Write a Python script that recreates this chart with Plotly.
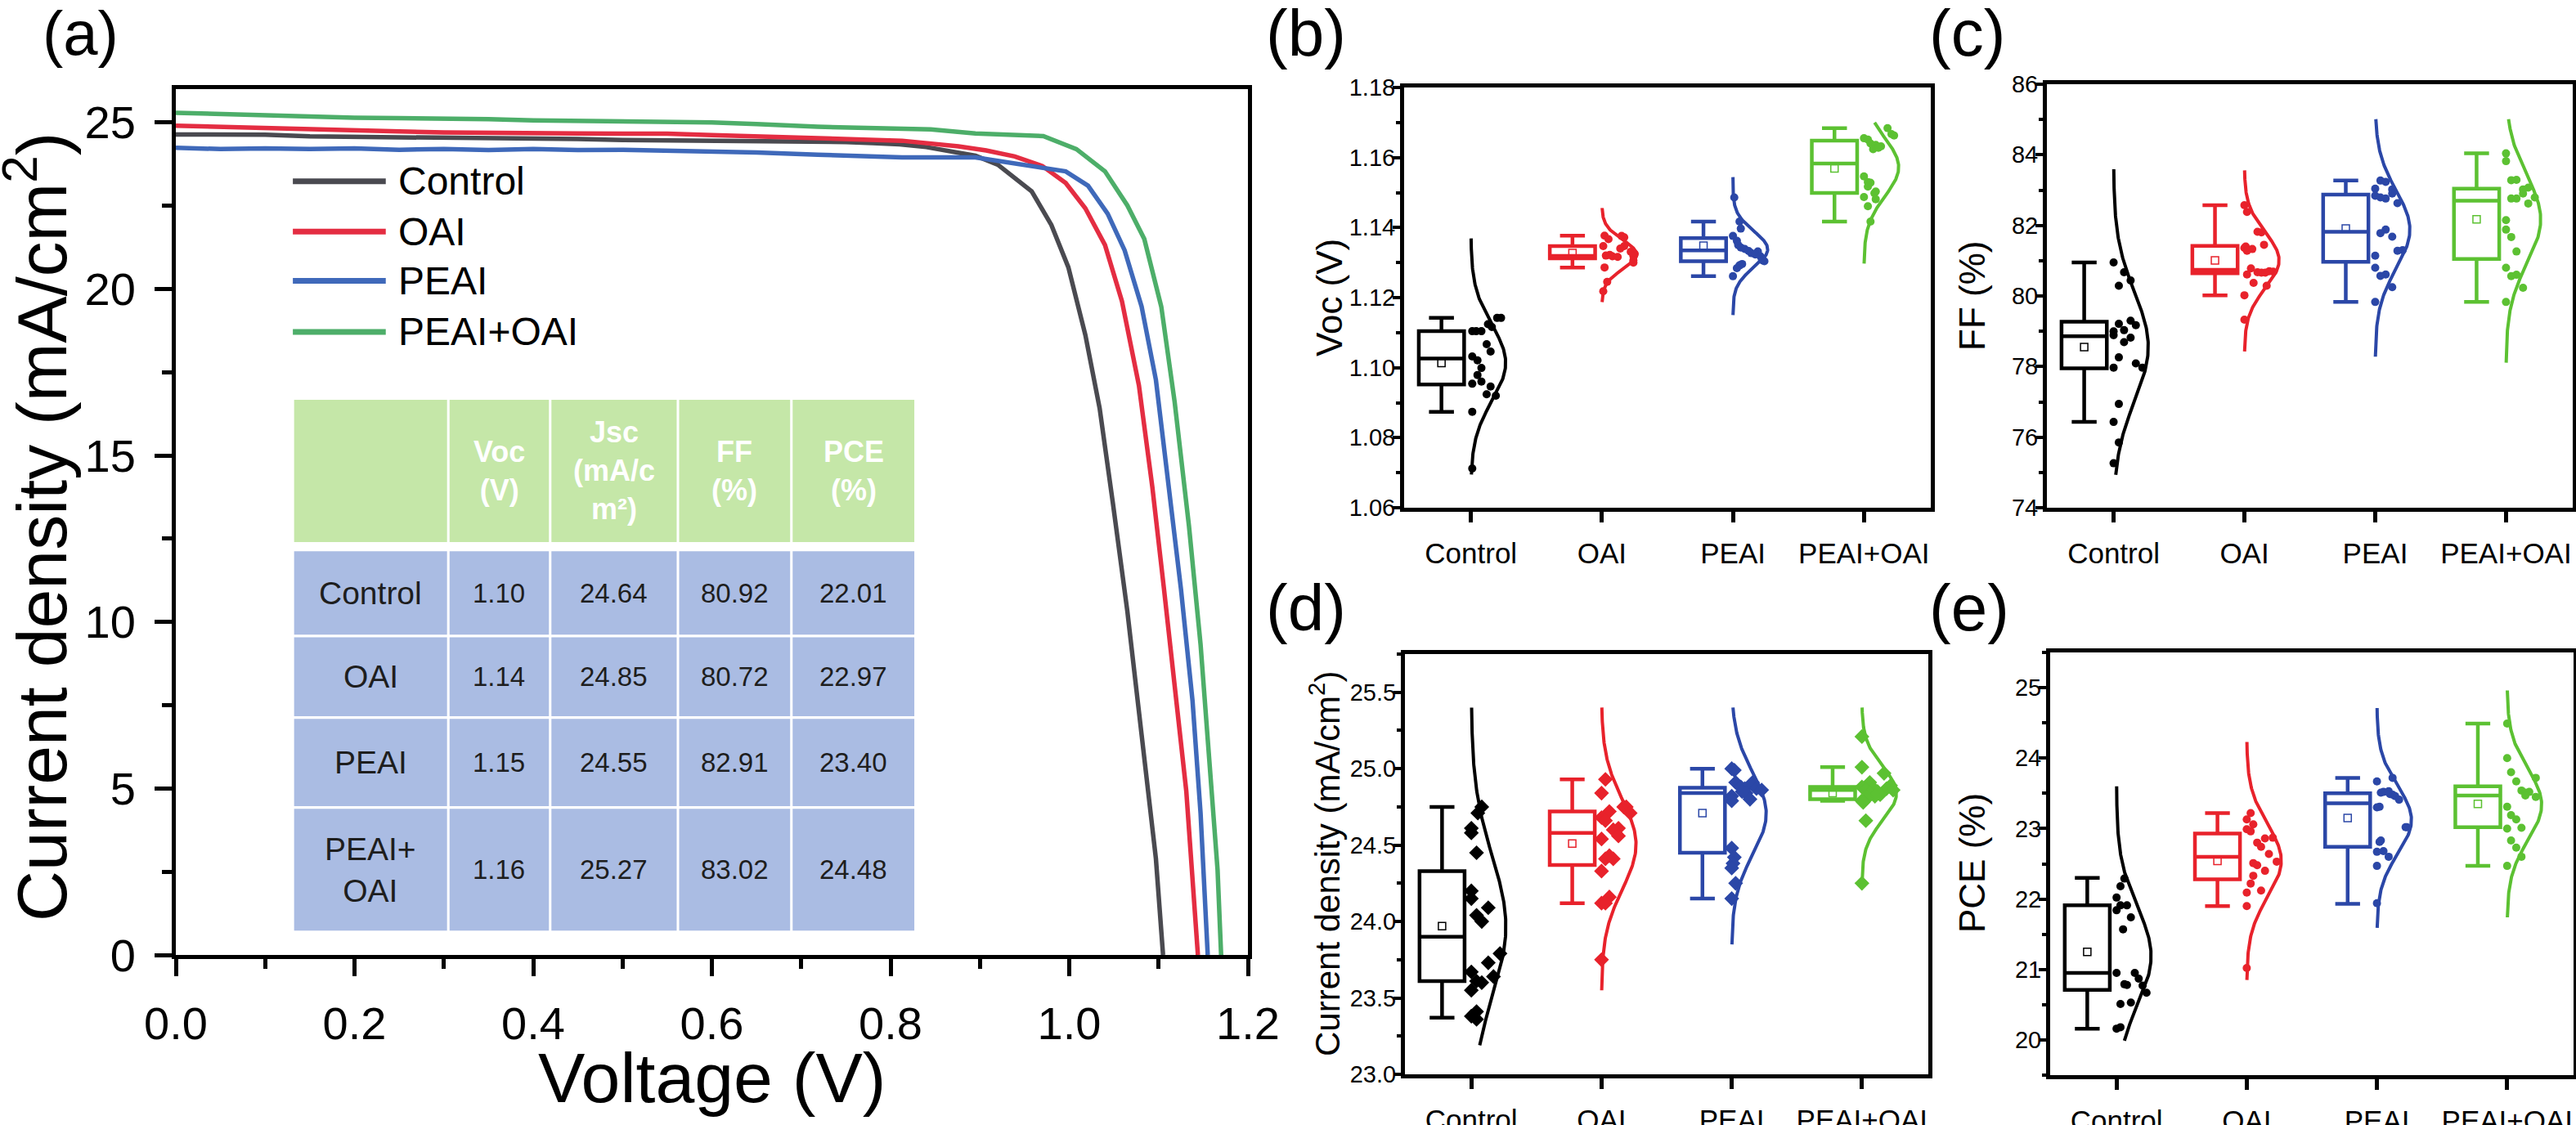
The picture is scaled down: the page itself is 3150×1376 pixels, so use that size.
import numpy as np
import plotly.graph_objects as go

W, H = 3150, 1376
FONT = "Liberation Sans, Arial, Helvetica, sans-serif"

# ---------------- (a) J-V curves ----------------
groups = ["Control", "OAI", "PEAI", "PEAI+OAI"]
jv_colors = ["#4A4A50", "#E42D42", "#3F69BA", "#4DAE69"]

v_control = [0.00, 0.05, 0.10, 0.15, 0.20, 0.25, 0.30, 0.35, 0.40, 0.45, 0.50, 0.55, 0.60, 0.65, 0.70,
             0.75, 0.78, 0.81, 0.84, 0.876, 0.895, 0.920, 0.939, 0.958, 0.980, 0.999, 1.018, 1.034,
             1.049, 1.065, 1.081, 1.097, 1.105]
j_control = [24.64, 24.63, 24.63, 24.58, 24.57, 24.55, 24.52, 24.52, 24.50, 24.50, 24.47, 24.46, 24.46,
             24.44, 24.43, 24.41, 24.38, 24.34, 24.26, 24.11, 24.00, 23.73, 23.35, 22.93, 21.92, 20.65,
             18.62, 16.42, 13.54, 10.33, 6.61, 2.89, 0.00]
v_oai = [0.00, 0.05, 0.10, 0.15, 0.20, 0.25, 0.30, 0.35, 0.40, 0.45, 0.50, 0.55, 0.60, 0.65, 0.7185,
         0.813, 0.876, 0.907, 0.939, 0.970, 0.996, 1.018, 1.040, 1.059, 1.078, 1.093, 1.106, 1.119,
         1.131, 1.144]
j_oai = [24.90, 24.86, 24.84, 24.80, 24.76, 24.73, 24.70, 24.70, 24.68, 24.67, 24.66, 24.66, 24.62,
         24.58, 24.54, 24.45, 24.28, 24.16, 23.98, 23.69, 23.18, 22.42, 21.32, 19.63, 17.10, 14.05,
         11.00, 7.96, 4.92, 0.00]
v_peai = [0.00, 0.05, 0.10, 0.15, 0.20, 0.25, 0.30, 0.35, 0.40, 0.45, 0.50, 0.55, 0.60, 0.65, 0.7185,
          0.813, 0.895, 0.939, 0.970, 0.996, 1.021, 1.043, 1.062, 1.081, 1.097, 1.112, 1.125, 1.138,
          1.147, 1.155]
j_peai = [24.24, 24.20, 24.22, 24.20, 24.22, 24.18, 24.20, 24.17, 24.20, 24.17, 24.18, 24.16, 24.14,
          24.10, 24.03, 23.95, 23.95, 23.78, 23.66, 23.53, 23.10, 22.26, 21.16, 19.47, 17.27, 14.05,
          11.00, 7.63, 4.25, 0.00]
v_both = [0.00, 0.05, 0.10, 0.15, 0.20, 0.25, 0.30, 0.35, 0.40, 0.45, 0.50, 0.55, 0.60, 0.65, 0.7185,
          0.845, 0.895, 0.971, 1.008, 1.040, 1.065, 1.084, 1.103, 1.118, 1.134, 1.147, 1.156, 1.166,
          1.170]
j_both = [25.29, 25.25, 25.20, 25.17, 25.14, 25.13, 25.12, 25.10, 25.06, 25.04, 25.02, 25.03, 25.00,
          24.95, 24.87, 24.79, 24.67, 24.59, 24.20, 23.53, 22.51, 21.50, 19.47, 16.60, 12.88, 9.32,
          5.94, 2.56, 0.00]

# inset table
table_header = ["", "Voc<br>(V)", "Jsc<br>(mA/c<br>m²)", "FF<br>(%)", "PCE<br>(%)"]
table_rows = ["Control", "OAI", "PEAI", "PEAI+<br>OAI"]
table_voc = ["1.10", "1.14", "1.15", "1.16"]
table_jsc = ["24.64", "24.85", "24.55", "25.27"]
table_ff = ["80.92", "80.72", "82.91", "83.02"]
table_pce = ["22.01", "22.97", "23.40", "24.48"]

# ---------------- (b)-(e) statistics ----------------
box_colors = ["#000000", "#E8222B", "#2B47A7", "#5CC132"]

voc_control = [1.1142, 1.1142, 1.1124, 1.1116, 1.1104, 1.1104, 1.1104, 1.1067, 1.1046, 1.1032, 1.1021,
               1.0999, 1.0979, 1.0954, 1.0960, 1.0946, 1.0924, 1.0920, 1.0874, 1.0712]
voc_control_dx = [0.20, 0.23, 0.13, 0.16, 0.01, 0.04, 0.08, 0.12, 0.15, 0.01, 0.05, 0.08, 0.05, 0.01,
                  0.08, 0.15, 0.12, 0.19, 0.01, 0.01]
voc_oai = [1.1377, 1.1376, 1.1372, 1.1367, 1.1347, 1.1347, 1.1340, 1.1331, 1.1325, 1.1322, 1.1320,
           1.1318, 1.1316, 1.1319, 1.1306, 1.1300, 1.1286, 1.1245, 1.1218]
voc_oai_dx = [0.02, 0.15, 0.17, 0.05, 0.01, 0.17, 0.14, 0.22, 0.25, 0.06, 0.03, 0.08, 0.12, 0.24, 0.24,
              0.24, 0.02, 0.04, 0.01]
voc_peai = [1.1486, 1.1417, 1.1397, 1.1376, 1.1362, 1.1350, 1.1343, 1.1339, 1.1333, 1.1332, 1.1327,
            1.1323, 1.1318, 1.1311, 1.1306, 1.1304, 1.1296, 1.1292, 1.1284, 1.1261]
voc_peai_dx = [0.01, 0.05, 0.06, 0.00, 0.03, 0.04, 0.06, 0.09, 0.12, 0.19, 0.14, 0.17, 0.21, 0.22, 0.23,
               0.24, 0.07, 0.05, 0.03, 0.00]
voc_both = [1.1684, 1.1667, 1.1663, 1.1655, 1.1651, 1.1640, 1.1636, 1.1632, 1.1624, 1.1628, 1.1546,
            1.1530, 1.1528, 1.1517, 1.1503, 1.1498, 1.1487, 1.1481, 1.1461, 1.1417]
voc_both_dx = [0.18, 0.21, 0.23, 0.00, 0.03, 0.05, 0.09, 0.13, 0.07, 0.11, 0.00, 0.03, 0.05, 0.03, 0.09,
               0.08, 0.00, 0.09, 0.03, 0.05]
voc_q1 = [1.0952, 1.1312, 1.1304, 1.1499]
voc_med = [1.1026, 1.1319, 1.1335, 1.1583]
voc_q3 = [1.1104, 1.1347, 1.1370, 1.1648]
voc_lo = [1.0874, 1.1286, 1.1261, 1.1417]
voc_hi = [1.1142, 1.1377, 1.1417, 1.1684]
voc_mean = [1.1013, 1.1327, 1.1348, 1.1569]
voc_curve_lo = [1.0695, 1.1187, 1.1150, 1.1297]
voc_curve_hi = [1.1369, 1.1456, 1.1544, 1.1700]

ff_control = [80.95, 80.67, 80.44, 80.29, 79.30, 79.21, 79.17, 79.00, 79.03, 78.89, 78.82, 78.69, 78.26,
              78.09, 77.97, 77.97, 76.94, 76.43, 75.85, 75.26]
ff_control_dx = [0.00, 0.08, 0.13, 0.04, 0.13, 0.04, 0.17, 0.00, 0.08, 0.00, 0.13, 0.08, 0.04, 0.17,
                 0.00, 0.22, 0.04, 0.00, 0.04, 0.00]
ff_oai = [82.57, 82.38, 81.82, 81.80, 81.45, 81.40, 81.36, 81.33, 81.28, 80.78, 80.70, 80.69, 80.67,
          80.66, 80.66, 80.61, 80.37, 80.29, 80.02, 79.33]
ff_oai_dx = [0.00, 0.02, 0.10, 0.13, 0.15, 0.01, 0.00, 0.06, 0.02, 0.05, 0.19, 0.22, 0.10, 0.13, 0.16,
             0.02, 0.07, 0.17, 0.00, 0.00]
ff_peai = [83.27, 83.23, 83.04, 83.02, 82.90, 82.84, 82.79, 82.76, 82.63, 81.88, 81.78, 81.68, 81.30,
           81.28, 81.14, 80.80, 80.61, 80.57, 80.25, 79.83]
ff_peai_dx = [0.04, 0.08, 0.00, 0.13, 0.13, 0.00, 0.04, 0.08, 0.17, 0.08, 0.04, 0.13, 0.21, 0.17, 0.00,
              0.00, 0.08, 0.04, 0.13, 0.00]
ff_both = [84.04, 83.82, 83.29, 83.28, 83.07, 83.02, 82.90, 82.79, 82.76, 82.76, 82.62, 82.15, 81.88,
           81.67, 81.26, 80.80, 80.60, 80.56, 80.23, 79.83]
ff_both_dx = [0.00, 0.00, 0.08, 0.04, 0.17, 0.13, 0.13, 0.22, 0.04, 0.08, 0.17, 0.00, 0.00, 0.04, 0.08,
              0.00, 0.08, 0.04, 0.13, 0.00]
ff_q1 = [77.95, 80.64, 80.97, 81.05]
ff_med = [78.86, 80.74, 81.82, 82.70]
ff_q3 = [79.27, 81.42, 82.87, 83.04]
ff_lo = [76.43, 80.02, 79.83, 79.83]
ff_hi = [80.95, 82.57, 83.27, 84.04]
ff_mean = [78.55, 81.01, 81.91, 82.17]
ff_curve_lo = [74.93, 78.43, 78.28, 78.11]
ff_curve_hi = [83.59, 83.56, 85.01, 85.01]

jsc_control = [24.75, 24.71, 24.61, 24.58, 24.45, 24.20, 24.15, 24.09, 24.04, 24.00, 23.79, 23.73,
               23.67, 23.64, 23.61, 23.60, 23.55, 23.41, 23.38, 23.36]
jsc_control_dx = [0.08, 0.05, 0.00, 0.00, 0.04, 0.00, 0.00, 0.13, 0.04, 0.08, 0.22, 0.13, 0.00, 0.17,
                  0.04, 0.08, 0.00, 0.04, 0.00, 0.04]
jsc_oai = [24.93, 24.84, 24.75, 24.75, 24.72, 24.71, 24.68, 24.66, 24.61, 24.60, 24.56, 24.54, 24.43,
           24.41, 24.41, 24.33, 24.16, 24.12, 24.12, 23.75]
jsc_oai_dx = [0.03, 0.00, 0.17, 0.19, 0.06, 0.22, 0.00, 0.03, 0.13, 0.09, 0.13, 0.00, 0.06, 0.03, 0.09,
              0.00, 0.06, 0.00, 0.03, 0.00]
jsc_peai = [25.00, 24.99, 24.91, 24.91, 24.88, 24.87, 24.87, 24.86, 24.85, 24.84, 24.82, 24.80, 24.79,
            24.48, 24.42, 24.38, 24.35, 24.25, 24.15]
jsc_peai_dx = [0.00, 0.02, 0.03, 0.16, 0.07, 0.10, 0.19, 0.23, 0.08, 0.11, 0.00, 0.14, 0.00, 0.00, 0.02,
               0.01, 0.00, 0.03, 0.00]
jsc_both = [25.21, 25.01, 24.97, 24.91, 24.89, 24.88, 24.87, 24.87, 24.86, 24.86, 24.85, 24.84, 24.83,
            24.82, 24.81, 24.80, 24.79, 24.78, 24.66, 24.25]
jsc_both_dx = [0.00, 0.00, 0.17, 0.06, 0.22, 0.00, 0.09, 0.19, 0.03, 0.24, 0.12, 0.06, 0.14, 0.10, 0.04,
               0.03, 0.00, 0.01, 0.03, 0.00]
jsc_q1 = [23.61, 24.37, 24.45, 24.80]
jsc_med = [23.90, 24.58, 24.84, 24.86]
jsc_q3 = [24.33, 24.72, 24.875, 24.88]
jsc_lo = [23.37, 24.12, 24.15, 24.79]
jsc_hi = [24.75, 24.93, 25.00, 25.01]
jsc_mean = [23.97, 24.51, 24.71, 24.84]
jsc_curve_lo = [23.19, 23.55, 23.85, 24.25]
jsc_curve_hi = [25.40, 25.40, 25.40, 25.40]

pce_control = [22.29, 22.18, 22.02, 21.91, 21.91, 21.84, 21.74, 21.57, 20.95, 20.95, 20.87, 20.79,
               20.78, 20.77, 20.67, 20.51, 20.53, 20.16, 20.18]
pce_control_dx = [0.06, 0.03, 0.00, 0.03, 0.08, 0.00, 0.11, 0.05, 0.00, 0.14, 0.17, 0.06, 0.08, 0.20,
                  0.23, 0.03, 0.11, 0.00, 0.03]
pce_oai = [23.22, 23.13, 23.06, 22.99, 22.96, 22.87, 22.86, 22.80, 22.74, 22.64, 22.53, 22.51, 22.48,
           22.40, 22.33, 22.22, 22.12, 22.09, 21.90, 21.02]
pce_oai_dx = [0.03, 0.00, 0.05, 0.00, 0.03, 0.20, 0.14, 0.08, 0.11, 0.17, 0.23, 0.05, 0.08, 0.14, 0.05,
              0.03, 0.11, 0.00, 0.00, 0.00]
pce_peai = [23.72, 23.67, 23.53, 23.52, 23.51, 23.49, 23.48, 23.46, 23.41, 23.31, 23.30, 23.02, 23.02,
            22.83, 22.81, 22.68, 22.67, 22.60, 22.47, 21.94]
pce_peai_dx = [0.12, 0.00, 0.09, 0.05, 0.03, 0.10, 0.12, 0.14, 0.17, 0.02, 0.00, 0.22, 0.23, 0.03, 0.02,
               0.05, 0.00, 0.09, 0.00, 0.00]
pce_both = [24.49, 24.00, 23.80, 23.72, 23.67, 23.54, 23.52, 23.51, 23.47, 23.45, 23.31, 23.19, 23.13,
            23.01, 23.00, 22.83, 22.73, 22.60, 22.47]
pce_both_dx = [0.00, 0.00, 0.03, 0.22, 0.07, 0.11, 0.17, 0.14, 0.14, 0.22, 0.00, 0.03, 0.07, 0.11, 0.00,
               0.03, 0.07, 0.11, 0.00]
pce_q1 = [20.71, 22.28, 22.74, 23.02]
pce_med = [20.95, 22.60, 23.36, 23.47]
pce_q3 = [21.91, 22.93, 23.50, 23.60]
pce_lo = [20.16, 21.90, 21.93, 22.47]
pce_hi = [22.30, 23.22, 23.72, 24.49]
pce_mean = [21.25, 22.54, 23.15, 23.35]
pce_curve_lo = [19.99, 20.85, 21.59, 21.74]
pce_curve_hi = [23.60, 24.23, 24.71, 24.96]

# ---------------- figure ----------------
fig = go.Figure()


def px_x(x):
    return x / W


def px_y(y):
    return 1 - y / H


# panel (a) traces
for v, j, c in zip([v_control, v_oai, v_peai, v_both], [j_control, j_oai, j_peai, j_both], jv_colors):
    fig.add_trace(go.Scatter(x=v, y=j, mode="lines", line=dict(color=c, width=5.5),
                             xaxis="x", yaxis="y", showlegend=False, hoverinfo="skip"))

shapes = []
annotations = []

# legend of (a)
leg_y = [23.23, 21.72, 20.24, 18.71]
for name, c, yy in zip(groups, jv_colors, leg_y):
    shapes.append(dict(type="line", xref="x", yref="y", x0=0.131, x1=0.235, y0=yy, y1=yy,
                       line=dict(color=c, width=7)))
    annotations.append(dict(xref="x", yref="y", x=0.247, y=yy, text=name, showarrow=False,
                            xanchor="left", yanchor="middle", font=dict(family=FONT, size=48, color="black")))

# inset table of (a)
col_edges = [0.131, 0.305, 0.419, 0.562, 0.689, 0.828]
head_edges = [16.67, 12.40]
row_edges = [12.16, 9.58, 7.13, 4.43, 0.69]
gx, gy = 0.0014, 0.04
for ci in range(5):
    x0, x1 = col_edges[ci] + gx, col_edges[ci + 1] - gx
    shapes.append(dict(type="rect", xref="x", yref="y", x0=x0, x1=x1, y0=head_edges[1], y1=head_edges[0],
                       fillcolor="#C5E7A8", line=dict(width=0), layer="below"))
    if table_header[ci]:
        annotations.append(dict(xref="x", yref="y", x=(x0 + x1) / 2, y=sum(head_edges) / 2,
                                text="<b>" + table_header[ci] + "</b>", showarrow=False,
                                font=dict(family=FONT, size=36, color="white")))
    for ri in range(4):
        y1, y0 = row_edges[ri] - gy, row_edges[ri + 1] + gy
        shapes.append(dict(type="rect", xref="x", yref="y", x0=x0, x1=x1, y0=y0, y1=y1,
                           fillcolor="#AABCE3", line=dict(width=0), layer="below"))
        col_vals = [table_rows, table_voc, table_jsc, table_ff, table_pce][ci]
        annotations.append(dict(xref="x", yref="y", x=(x0 + x1) / 2, y=(y0 + y1) / 2,
                                text=col_vals[ri], showarrow=False,
                                font=dict(family=FONT, size=39 if ci == 0 else 33, color="#1E1E1E")))

# panels (b)-(e)
BOX_OFF = -0.225
BOX_W = 0.346
PEAK_W = 0.265
panels = [
    ("2", [voc_control, voc_oai, voc_peai, voc_both],
     [voc_control_dx, voc_oai_dx, voc_peai_dx, voc_both_dx],
     voc_q1, voc_med, voc_q3, voc_lo, voc_hi, voc_mean, voc_curve_lo, voc_curve_hi, "circle", 10),
    ("3", [ff_control, ff_oai, ff_peai, ff_both],
     [ff_control_dx, ff_oai_dx, ff_peai_dx, ff_both_dx],
     ff_q1, ff_med, ff_q3, ff_lo, ff_hi, ff_mean, ff_curve_lo, ff_curve_hi, "circle", 10),
    ("4", [jsc_control, jsc_oai, jsc_peai, jsc_both],
     [jsc_control_dx, jsc_oai_dx, jsc_peai_dx, jsc_both_dx],
     jsc_q1, jsc_med, jsc_q3, jsc_lo, jsc_hi, jsc_mean, jsc_curve_lo, jsc_curve_hi, "diamond", 14),
    ("5", [pce_control, pce_oai, pce_peai, pce_both],
     [pce_control_dx, pce_oai_dx, pce_peai_dx, pce_both_dx],
     pce_q1, pce_med, pce_q3, pce_lo, pce_hi, pce_mean, pce_curve_lo, pce_curve_hi, "circle", 10),
]

for (ax, vals, dxs, q1, med, q3, lo, hi, mean, clo, chi, sym, msize) in panels:
    xa, ya = "x" + ax, "y" + ax
    for k in range(4):
        pos = k + 1
        c = box_colors[k]
        fig.add_trace(go.Box(x=[pos + BOX_OFF], q1=[q1[k]], median=[med[k]], q3=[q3[k]],
                             lowerfence=[lo[k]], upperfence=[hi[k]], width=BOX_W, whiskerwidth=0.55,
                             orientation="v", boxpoints=False, fillcolor="rgba(255,255,255,0)",
                             line=dict(color=c, width=4.5), xaxis=xa, yaxis=ya,
                             showlegend=False, hoverinfo="skip"))
        fig.add_trace(go.Scatter(x=[pos + BOX_OFF], y=[mean[k]], mode="markers",
                                 marker=dict(symbol="square-open", size=9, color=c, line=dict(width=1.5)),
                                 xaxis=xa, yaxis=ya, showlegend=False, hoverinfo="skip"))
        arr = np.asarray(vals[k])
        fig.add_trace(go.Scatter(x=pos + np.asarray(dxs[k]), y=arr, mode="markers",
                                 marker=dict(symbol=sym, size=msize, color=c),
                                 xaxis=xa, yaxis=ya, showlegend=False, hoverinfo="skip"))
        mu, sd = arr.mean(), arr.std(ddof=1)
        yy = np.linspace(clo[k], chi[k], 200)
        xx = pos + PEAK_W * np.exp(-0.5 * ((yy - mu) / sd) ** 2)
        fig.add_trace(go.Scatter(x=xx, y=yy, mode="lines", line=dict(color=c, width=4),
                                 xaxis=xa, yaxis=ya, showlegend=False, hoverinfo="skip"))

# ---------------- axes ----------------
common = dict(showline=True, linecolor="black", mirror=True, showgrid=False, zeroline=False,
              ticks="outside", tickcolor="black", automargin=False)

layout_axes = {}
layout_axes["xaxis"] = dict(common, domain=[px_x(215), px_x(1526)], range=[0, 1.2], anchor="y",
                            linewidth=5, tickwidth=5, ticklen=21, tick0=0, dtick=0.2, tickformat=".1f",
                            minor=dict(ticks="outside", ticklen=12, tickwidth=5, dtick=0.1, tickcolor="black"),
                            tickfont=dict(family=FONT, size=56, color="black"), ticklabelstandoff=10)
layout_axes["yaxis"] = dict(common, domain=[px_y(1168), px_y(109)], range=[0, 26], anchor="x",
                            linewidth=5, tickwidth=5, ticklen=21, tick0=0, dtick=5,
                            minor=dict(ticks="outside", ticklen=12, tickwidth=5, dtick=2.5, tickcolor="black"),
                            tickfont=dict(family=FONT, size=56, color="black"), ticklabelstandoff=12)

pan_geom = {
    "2": ((1717, 2361), (107, 621), [1.06, 1.18], 0.02, 0.01, ".2f"),
    "3": ((2503, 3146), (103, 621), [74, 86], 2, 1, "d"),
    "4": ((1718, 2358), (800, 1314), [23.0, 25.75], 0.5, 0.25, ".1f"),
    "5": ((2507, 3147), (798, 1315), [19.5, 25.5], 1, 0.5, "d"),
}
for ax, ((x0, x1), (y0, y1), yr, dt, mdt, fmt) in pan_geom.items():
    layout_axes["xaxis" + ax] = dict(common, domain=[px_x(x0), px_x(x1)], range=[0.49, 4.51],
                                     anchor="y" + ax, linewidth=5, tickwidth=5, ticklen=13,
                                     tickvals=[1, 2, 3, 4], ticktext=groups,
                                     tickfont=dict(family=FONT, size=35, color="black"),
                                     ticklabelstandoff=8)
    layout_axes["yaxis" + ax] = dict(common, domain=[px_y(y1), px_y(y0)], range=yr, anchor="x" + ax,
                                     linewidth=5, tickwidth=4, ticklen=9, tick0=0, dtick=dt,
                                     tickformat=fmt,
                                     minor=dict(ticks="outside", ticklen=5, tickwidth=4, dtick=mdt,
                                                tickcolor="black"),
                                     tickfont=dict(family=FONT, size=29, color="black"),
                                     ticklabelstandoff=-9)

# axis titles and panel labels
def lab(x, y, text, size, angle=0):
    annotations.append(dict(xref="paper", yref="paper", x=px_x(x), y=px_y(y), text=text,
                            showarrow=False, textangle=angle, xanchor="center", yanchor="middle",
                            font=dict(family=FONT, size=size, color="black")))


lab(45, 645, "Current density (mA/cm<sup>2</sup>)", 86, -90)
lab(870, 1318, "Voltage (V)", 86)
lab(1625, 364, "Voc (V)", 44, -90)
lab(2411, 362, "FF (%)", 44, -90)
lab(1620, 1056, "Current density (mA/cm<sup>2</sup>)", 42, -90)
lab(2411, 1056, "PCE (%)", 44, -90)
lab(98, 40, "(a)", 76)
lab(1597, 40, "(b)", 80)
lab(2405, 40, "(c)", 80)
lab(1597, 743, "(d)", 80)
lab(2408, 743, "(e)", 80)

fig.update_layout(width=W, height=H, margin=dict(l=0, r=0, t=0, b=0, pad=0), template="none",
                  paper_bgcolor="white", plot_bgcolor="white", showlegend=False,
                  shapes=shapes, annotations=annotations, font=dict(family=FONT), **layout_axes)

fig.write_html("out.html", config={"displayModeBar": False},
               post_script="document.body.style.margin='0px';")
